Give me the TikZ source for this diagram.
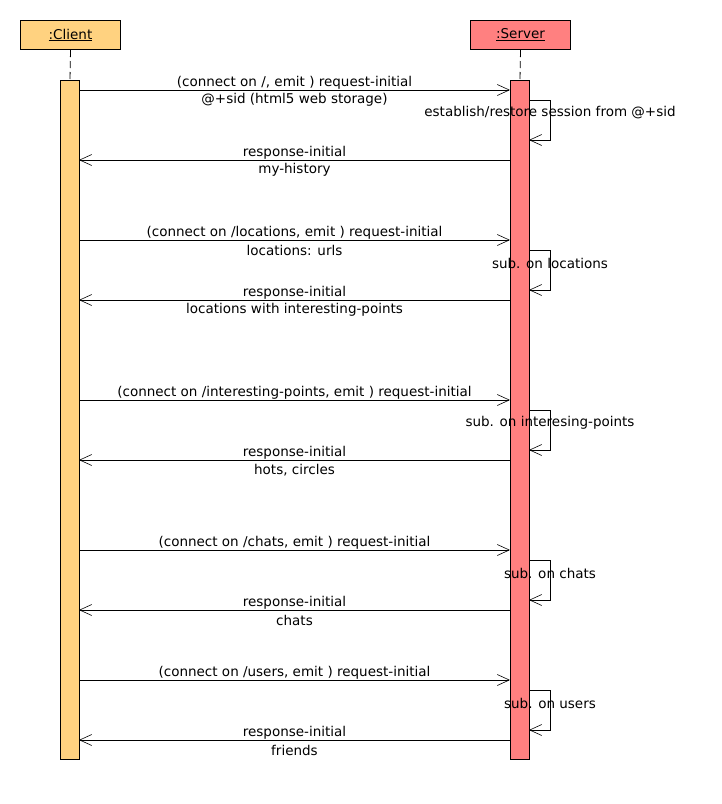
\documentclass[tikz,border=0pt]{standalone}
\usepackage{fontspec}
\setmainfont{DejaVu Sans}
\usetikzlibrary{arrows.meta}
\definecolor{clientfill}{HTML}{FFD280}
\definecolor{serverfill}{HTML}{FF8080}
\tikzset{
  every node/.style={font=\fontsize{13.5}{15}\selectfont, inner sep=0pt},
  objbox/.style={draw, line width=1pt, minimum width=100pt, minimum height=29pt, anchor=north west},
  actbar/.style={draw, line width=1pt},
  lifeline/.style={line width=0.8pt, dash pattern=on 7pt off 4pt},
  msg/.style={line width=0.9pt, -{Straight Barb[length=12pt,width=11pt,line width=0.6pt]}},
  lbl/.style={anchor=center},
}
\begin{document}
\begin{tikzpicture}[x=1pt,y=-1pt]
\useasboundingbox (0,0) rectangle (722,804);
% object boxes
\node[objbox, fill=clientfill] (client) at (20,20) {\underline{:Client}};
\node[objbox, fill=serverfill] (server) at (470,20) {\underline{:Server}};
% activation bars
\path[actbar, fill=clientfill] (60,80) rectangle (79,759);
\path[actbar, fill=serverfill] (510,80) rectangle (529,759);
\coordinate (cTop) at (70,80);
\coordinate (sTop) at (520,80);
\draw[lifeline] (client.south) -- (cTop);
\draw[lifeline] (server.south) -- (sTop);
% requests
\foreach \y/\a/\b in {
  90/{(connect on /, emit ) request-initial}/{@+sid (html5 web storage)},
  240/{(connect on /locations, emit ) request-initial}/{locations: urls},
  400/{(connect on /interesting-points, emit ) request-initial}/{},
  550/{(connect on /chats, emit ) request-initial}/{},
  680/{(connect on /users, emit ) request-initial}/{}}{
  \coordinate (rqs) at (79,\y);
  \coordinate (rqe) at (510,\y);
  \draw[msg] (rqs) -- (rqe);
  \node[lbl] (rqa) at (294.5,\y-7) {\a};
  \node[lbl] (rqb) at (294.5,\y+10) {\b};
}
% responses
\foreach \y/\a/\b in {
  160/{response-initial}/{my-history},
  300/{response-initial}/{locations with interesting-points},
  460/{response-initial}/{hots, circles},
  610/{response-initial}/{chats},
  740/{response-initial}/{friends}}{
  \coordinate (rss) at (510,\y);
  \coordinate (rse) at (79,\y);
  \draw[msg] (rss) -- (rse);
  \node[lbl] (rsa) at (294.5,\y-7) {\a};
  \node[lbl] (rsb) at (294.5,\y+10) {\b};
}
% self calls
\foreach \y/\t in {
  100/{establish/restore session from @+sid},
  250/{sub. on locations},
  410/{sub. on interesing-points},
  560/{sub. on chats},
  690/{sub. on users}}{
  \coordinate (ls) at (529,\y);
  \coordinate (le) at (529,\y+40);
  \draw[msg] (ls) -- ++(21,0) |- (le);
  \node[lbl] (lt) at (550,\y+13) {\t};
}
\end{tikzpicture}
\end{document}
